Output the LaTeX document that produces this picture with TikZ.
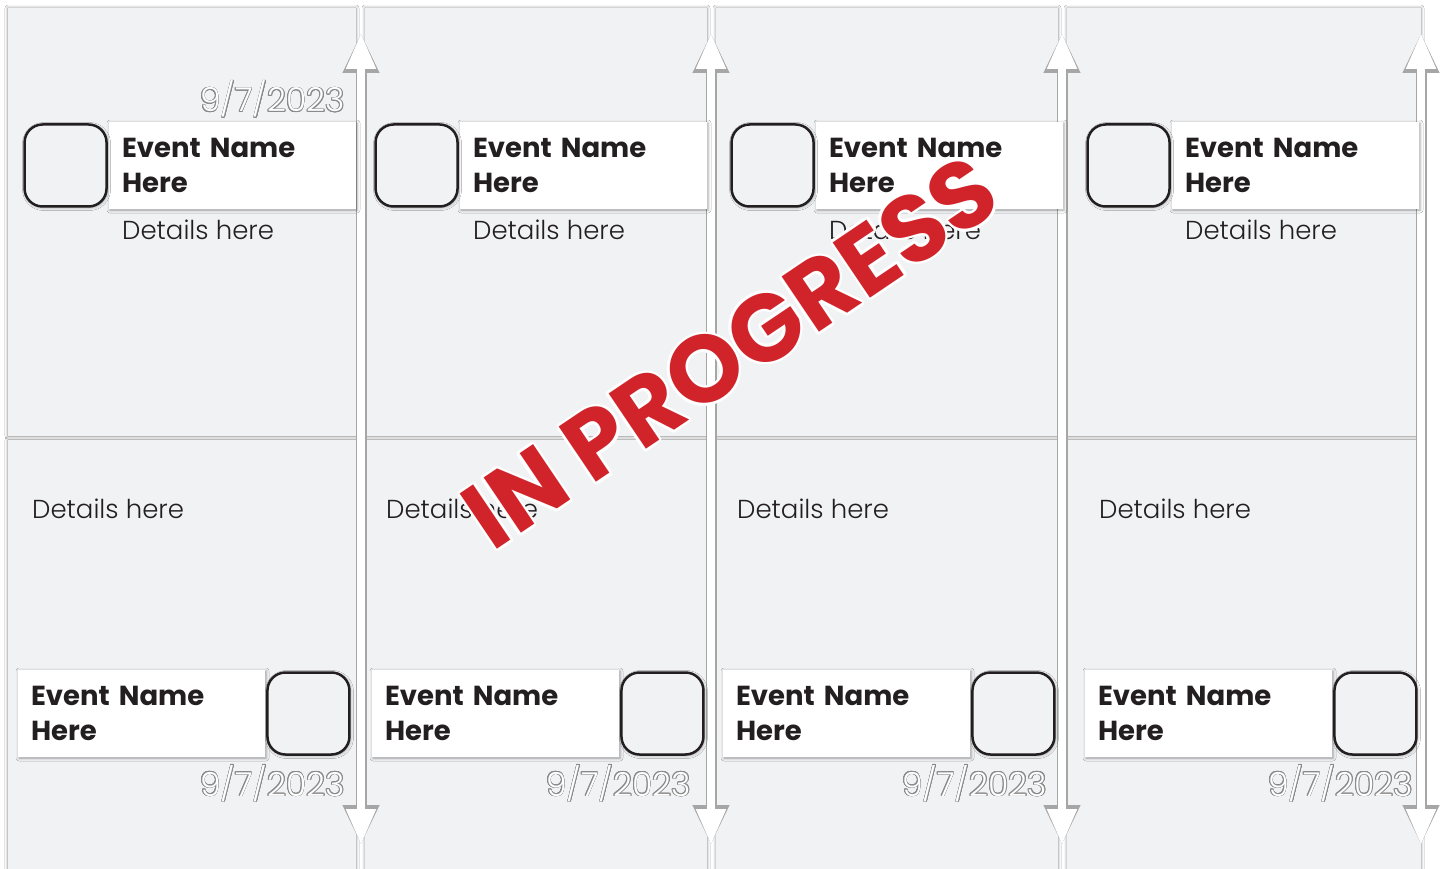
\documentclass[tikz,border=0pt]{standalone}
\usepackage{fontspec}
\setmainfont{Poppins}
\newfontfamily\lightfont{Poppins}[UprightFont=* Light]
\usepackage{contour}
\usetikzlibrary{positioning,calc,arrows.meta,shadows.blur}
\definecolor{panel}{HTML}{F1F2F4}
\definecolor{ink}{HTML}{231F20}
\definecolor{stamp}{HTML}{D1232A}
\definecolor{rim}{HTML}{8A8A8A}

\begin{document}
\begin{tikzpicture}[x=1pt,y=-1pt,
  card/.style={fill=panel,blur shadow={shadow xshift=0pt,shadow yshift=0pt,shadow blur radius=3pt,shadow opacity=45}},
  evbox/.style={fill=white,minimum width=247pt,minimum height=87pt,text width=221pt,inner xsep=13pt,
    align=left,text=ink,font=\fontsize{27.5}{35}\selectfont\bfseries,
    blur shadow={shadow xshift=1pt,shadow yshift=-1pt,shadow blur radius=3pt,shadow opacity=35}},
  slot/.style={draw=ink,line width=2.5pt,rounded corners=18pt,minimum size=82pt,fill=panel,
    blur shadow={shadow xshift=1pt,shadow yshift=-1pt,shadow blur radius=3pt,shadow opacity=35}},
  detail/.style={anchor=base west,inner sep=0pt,text=ink,font=\fontsize{26}{30}\lightfont},
  datelbl/.style={anchor=base east,inner sep=0pt,font=\fontsize{33}{36}\lightfont},
  axis/.style={white,line width=8pt,>={Triangle[width=28pt,length=36pt]},<->,
    preaction={draw=black!35,line width=11pt,>={Triangle[width=34pt,length=40pt]}}}]
\useasboundingbox (0,0) rectangle (1440,869);
\fill[white] (0,0) rectangle (1440,869);

% panels
\fill[card] (8,8) rectangle (356,436);
\fill[card] (365,8) rectangle (707,436);
\fill[card] (716,8) rectangle (1058,436);
\fill[card] (1067,8) rectangle (1421,436);
\fill[card] (8,440) rectangle (356,880);
\fill[card] (365,440) rectangle (707,880);
\fill[card] (716,440) rectangle (1058,880);
\fill[card] (1067,440) rectangle (1421,880);

% time axes
\coordinate (up1) at (361,33);   \coordinate (dn1) at (361,845);
\coordinate (up2) at (711,33);   \coordinate (dn2) at (711,845);
\coordinate (up3) at (1062,33);  \coordinate (dn3) at (1062,845);
\coordinate (up4) at (1421,33);  \coordinate (dn4) at (1421,845);
\draw[axis] (dn1) -- (up1);
\draw[axis] (dn2) -- (up2);
\draw[axis] (dn3) -- (up3);
\draw[axis] (dn4) -- (up4);

% upper events
\node[evbox] (ev1) at (232.5,165.5) {Event Name\\Here};
\node[evbox] (ev2) at (583.5,165.5) {Event Name\\Here};
\node[evbox] (ev3) at (939.5,165.5) {Event Name\\Here};
\node[evbox] (ev4) at (1295.5,165.5) {Event Name\\Here};
\node[slot,left=1pt of ev1] (sq1) {};
\node[slot,left=1pt of ev2] (sq2) {};
\node[slot,left=1pt of ev3] (sq3) {};
\node[slot,left=1pt of ev4] (sq4) {};
\node[detail] (dt1) at (122,240) {Details here};
\node[detail] (dt2) at (473,240) {Details here};
\node[detail] (dt3) at (829,240) {Details here};
\node[detail] (dt4) at (1185,240) {Details here};
\node[datelbl] (dd1) at (345,112) {\contourlength{0.7pt}\contour{rim}{\textcolor{white}{9/7/2023}}};

% lower events
\node[evbox] (eb1) at (141.5,713.5) {Event Name\\Here};
\node[evbox] (eb2) at (495.5,713.5) {Event Name\\Here};
\node[evbox] (eb3) at (846.5,713.5) {Event Name\\Here};
\node[evbox] (eb4) at (1208.5,713.5) {Event Name\\Here};
\node[slot,right=1pt of eb1] (sb1) {};
\node[slot,right=1pt of eb2] (sb2) {};
\node[slot,right=1pt of eb3] (sb3) {};
\node[slot,right=1pt of eb4] (sb4) {};
\node[detail] (db1) at (32,518) {Details here};
\node[detail] (db2) at (386,518) {Details here};
\node[detail] (db3) at (737,518) {Details here};
\node[detail] (db4) at (1099,518) {Details here};
\node[datelbl] (de1) at (345,796) {\contourlength{0.7pt}\contour{rim}{\textcolor{white}{9/7/2023}}};
\node[datelbl] (de2) at (691,796) {\contourlength{0.7pt}\contour{rim}{\textcolor{white}{9/7/2023}}};
\node[datelbl] (de3) at (1047,796) {\contourlength{0.7pt}\contour{rim}{\textcolor{white}{9/7/2023}}};
\node[datelbl] (de4) at (1413,796) {\contourlength{0.7pt}\contour{rim}{\textcolor{white}{9/7/2023}}};

% stamp
\node[rotate=34,inner sep=0pt,font=\fontsize{95}{95}\selectfont\bfseries] (stampmark) at (731,353)
  {\contourlength{2.5pt}\contour{white}{\textcolor{stamp}{IN PROGRESS}}};
\end{tikzpicture}
\end{document}
